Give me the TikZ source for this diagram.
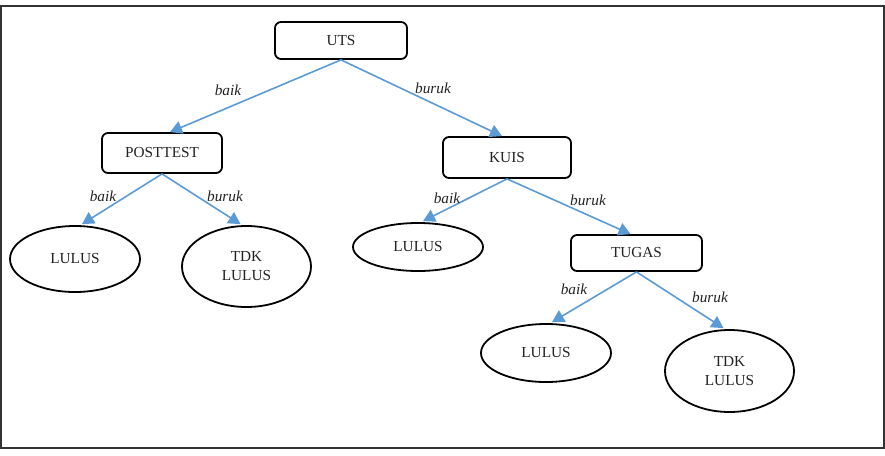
\documentclass[tikz,border=0pt]{standalone}
\usepackage{fontspec}
\setmainfont{Liberation Serif}
\usetikzlibrary{shapes.geometric,arrows.meta}
\definecolor{arrowblue}{HTML}{5B9BD5}
\definecolor{txt}{HTML}{222222}
\tikzset{
  box/.style={draw=black, line width=1.8pt, rounded corners=6pt, rectangle, inner sep=0pt, text=txt, font=\fontsize{15.3}{19}\selectfont},
  oval/.style={draw=black, line width=1.8pt, ellipse, inner sep=0pt, text=txt, align=center, font=\fontsize{15.3}{19}\selectfont},
  conn/.style={draw=arrowblue, line width=1.6pt, -{Triangle[length=12pt,width=13pt]}},
  lbl/.style={text=txt, font=\fontsize{15.3}{18}\selectfont\itshape, inner sep=0pt}
}
\begin{document}
\begin{tikzpicture}[x=1pt,y=-1pt]
\useasboundingbox (0,0) rectangle (885,455);
\draw[draw=black!80, line width=1.3pt] (1,6) rectangle (884,448);
% boxes
\node[box, minimum width=132pt, minimum height=37pt] (uts) at (341,40.5) {UTS};
\node[box, minimum width=120pt, minimum height=40pt] (post) at (162,153) {POSTTEST};
\node[box, minimum width=128pt, minimum height=41pt] (kuis) at (507,157.5) {KUIS};
\node[box, minimum width=131pt, minimum height=36pt] (tugas) at (636.5,253) {TUGAS};
% ellipses
\node[oval, minimum width=130pt, minimum height=66pt] (l1) at (75,259) {LULUS};
\node[oval, minimum width=129pt, minimum height=81pt] (t1) at (246.5,266.5) {TDK\\LULUS};
\node[oval, minimum width=130pt, minimum height=48pt] (l2) at (418,247) {LULUS};
\node[oval, minimum width=130pt, minimum height=58pt] (l3) at (546,353) {LULUS};
\node[oval, minimum width=129pt, minimum height=82pt] (t2) at (729.5,371) {TDK\\LULUS};
% connectors
\draw[conn] (uts.south) -- ([xshift=8pt]post.north);
\draw[conn] (uts.south) -- ([xshift=-5pt]kuis.north);
\draw[conn] (post.south) -- ([xshift=7pt,yshift=1pt]l1.north);
\draw[conn] (post.south) -- ([xshift=-6pt,yshift=1pt]t1.north);
\draw[conn] (kuis.south) -- ([xshift=5pt,yshift=1pt]l2.north);
\draw[conn] (kuis.south) -- ([xshift=-6pt]tugas.north);
\draw[conn] (tugas.south) -- ([xshift=6pt,yshift=1pt]l3.north);
\draw[conn] (tugas.south) -- ([xshift=-6pt,yshift=1pt]t2.north);
% labels
\node[lbl] (b1) at (228,90) {baik};
\node[lbl] (r1) at (433,88) {buruk};
\node[lbl] (b2) at (103,196) {baik};
\node[lbl] (r2) at (225,196) {buruk};
\node[lbl] (b3) at (447,198) {baik};
\node[lbl] (r3) at (588,200) {buruk};
\node[lbl] (b4) at (574,289) {baik};
\node[lbl] (r4) at (710,297) {buruk};
\end{tikzpicture}
\end{document}
